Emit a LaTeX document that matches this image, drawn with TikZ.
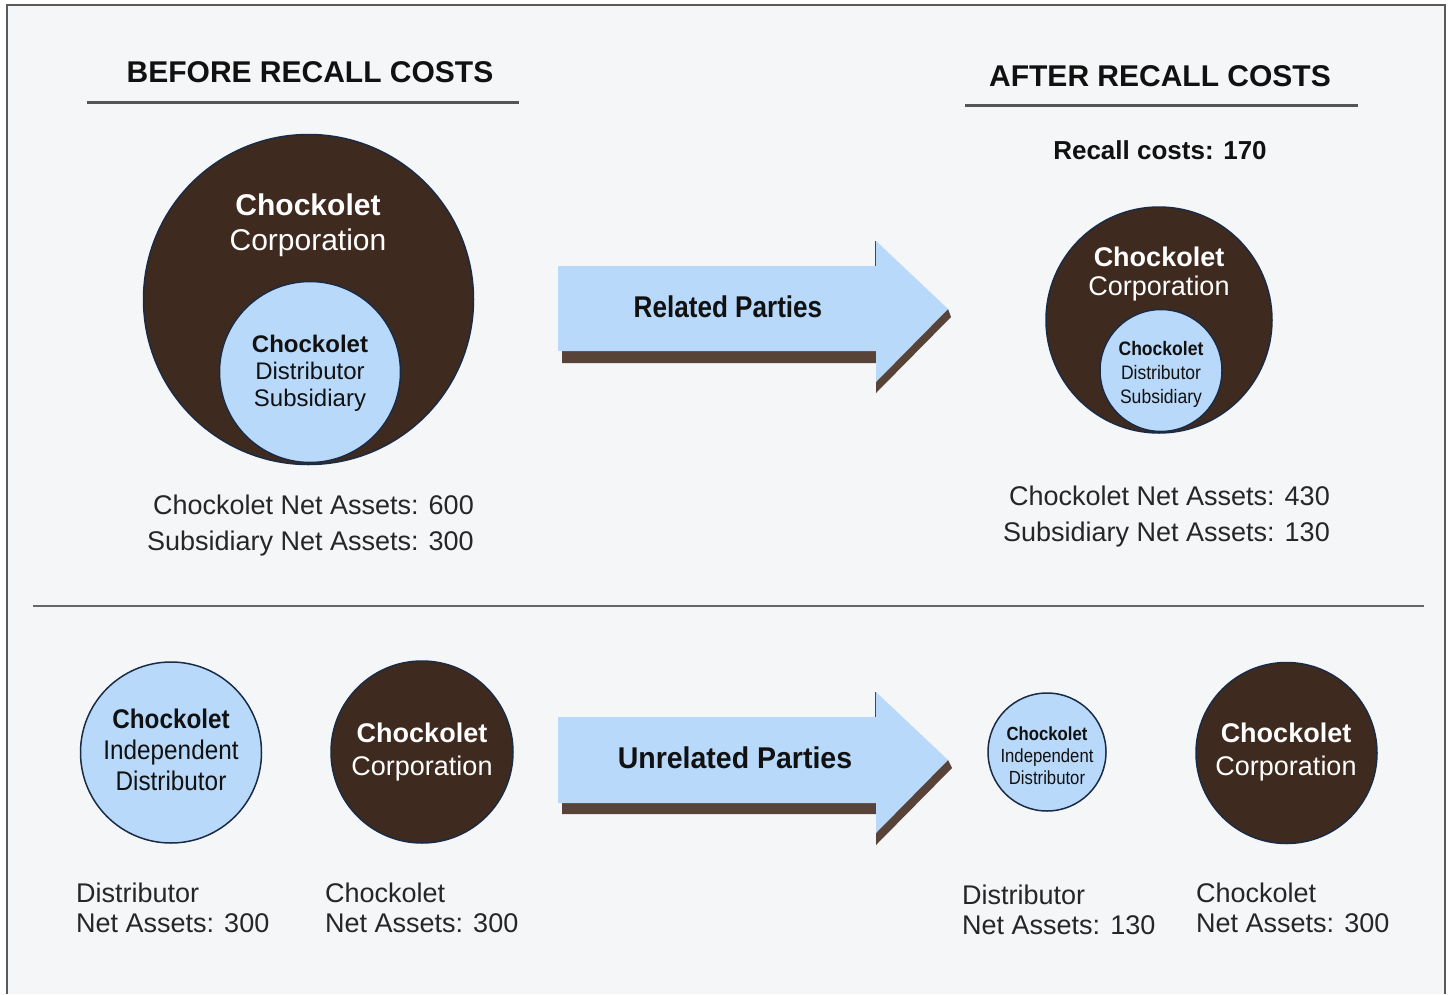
\documentclass[tikz,border=0pt]{standalone}
\usepackage{fontspec}
\setmainfont{Liberation Sans}
\usepackage{graphicx}
\definecolor{bgc}{HTML}{F5F6F8}
\definecolor{framec}{HTML}{5A5A5A}
\definecolor{brownc}{HTML}{3F2A1F}
\definecolor{bluec}{HTML}{B8D9FA}
\definecolor{shadowc}{HTML}{574337}
\definecolor{outc}{HTML}{1A2B45}
\definecolor{darkc}{HTML}{111111}
\definecolor{labc}{HTML}{262626}
\definecolor{rulec}{HTML}{555555}
\newcommand\fsz[1]{\fontsize{#1}{#1}\selectfont}
\newcommand\nrw[2]{\scalebox{#1}[1]{#2}}
\tikzset{
  corp/.style={circle, fill=brownc, draw=outc, line width=1.5pt, inner sep=0pt},
  subs/.style={circle, fill=bluec, draw=outc, line width=1.5pt, inner sep=0pt},
  txt/.style={anchor=base, inner sep=0pt},
  wtxt/.style={txt, text=white},
  btxt/.style={txt, text=darkc},
  title/.style={txt, text=darkc, font=\fsz{30}\bfseries},
  lbl/.style={inner sep=0pt, text=labc, font=\fsz{27}},
  rulel/.style={draw=rulec, line width=3pt},
  arrowbody/.style={fill=bluec},
  arrowshadow/.style={fill=shadowc}
}
\begin{document}
\begin{tikzpicture}[x=1pt,y=-1pt]
\useasboundingbox (0,0) rectangle (1452,994);
\fill[white] (0,0) rectangle (1452,994);
\fill[bgc] (7,5) rectangle (1445,994);
\draw[framec, line width=2pt] (7,994) -- (7,5) -- (1445,5) -- (1445,994);

% titles
\node[title] (tbefore) at (310,82) {BEFORE RECALL COSTS};
\node[title] (tafter) at (1160,86) {AFTER RECALL COSTS};
\draw[rulel] (87,102) -- (519,102);
\draw[rulel] (965,105) -- (1358,105);
\node[txt, text=darkc, font=\fsz{26}\bfseries] (recall) at (1160,159) {Recall costs: 170};

% before circles
\node[corp, minimum size=330pt] (corpA) at (308.5,299.5) {};
\node[subs, minimum size=181pt] (subA) at (310,372) {};
\node[wtxt, font=\fsz{30}\bfseries] (corpA1) at (308,215) {Chockolet};
\node[wtxt, font=\fsz{30}] (corpA2) at (308,250) {Corporation};
\node[btxt, font=\fsz{24}\bfseries] (subA1) at (310,352) {Chockolet};
\node[btxt, font=\fsz{24}] (subA2) at (310,379) {Distributor};
\node[btxt, font=\fsz{24}] (subA3) at (310,406) {Subsidiary};
\node[lbl, anchor=base east] (labA1) at (474,514) {Chockolet Net Assets: 600};
\node[lbl, anchor=base east] (labA2) at (474,550) {Subsidiary Net Assets: 300};

% after circles
\node[corp, minimum size=226pt] (corpB) at (1159,320) {};
\node[subs, minimum size=122pt] (subB) at (1161,370.5) {};
\node[wtxt, font=\fsz{27}\bfseries] (corpB1) at (1159,266) {Chockolet};
\node[wtxt, font=\fsz{27}] (corpB2) at (1159,295) {Corporation};
\node[btxt, font=\fsz{19.5}\bfseries] (subB1) at (1161,355) {\nrw{0.9}{Chockolet}};
\node[btxt, font=\fsz{19.5}] (subB2) at (1161,379) {\nrw{0.9}{Distributor}};
\node[btxt, font=\fsz{19.5}] (subB3) at (1161,403) {\nrw{0.9}{Subsidiary}};
\node[lbl, anchor=base east] (labB1) at (1330,505.5) {Chockolet Net Assets: 430};
\node[lbl, anchor=base east] (labB2) at (1330,541.5) {Subsidiary Net Assets: 130};

% arrow 1
\fill[arrowshadow] (562,300) -- (876,300) -- (948,309) -- (951,317) -- (876,393) -- (876,363) -- (562,363) -- cycle;
\draw[shadowc, line width=1.5pt] (875.5,241) -- (875.5,266);
\fill[arrowbody] (558,266) -- (876,266) -- (876,241) -- (948,309) -- (876,382) -- (876,351) -- (558,351) -- cycle;
\node[btxt, font=\fsz{30}\bfseries] (rel) at (728,317) {\nrw{0.87}{Related Parties}};

% divider
\draw[draw=rulec!90, line width=2.5pt] (33,606) -- (1424,606);

% bottom left circles
\node[subs, minimum size=181pt] (indA) at (171,752.5) {};
\node[btxt, font=\fsz{27}\bfseries] (indA1) at (171,728) {\nrw{0.9}{Chockolet}};
\node[btxt, font=\fsz{27}] (indA2) at (171,759) {\nrw{0.9}{Independent}};
\node[btxt, font=\fsz{27}] (indA3) at (171,790) {\nrw{0.9}{Distributor}};
\node[corp, minimum size=182pt] (corpC) at (422,752) {};
\node[wtxt, font=\fsz{27}\bfseries] (corpC1) at (422,742) {Chockolet};
\node[wtxt, font=\fsz{27}] (corpC2) at (422,775) {Corporation};
\node[lbl, anchor=base west] (labC1) at (76,902) {Distributor};
\node[lbl, anchor=base west] (labC2) at (76,932) {Net Assets: 300};
\node[lbl, anchor=base west] (labC3) at (325,902) {Chockolet};
\node[lbl, anchor=base west] (labC4) at (325,932) {Net Assets: 300};

% arrow 2
\fill[arrowshadow] (562,751) -- (876,751) -- (948,760) -- (952,768) -- (876,845) -- (876,814) -- (562,814) -- cycle;
\draw[shadowc, line width=1.5pt] (875.5,692) -- (875.5,717);
\fill[arrowbody] (558,717) -- (876,717) -- (876,692) -- (948,760) -- (876,833) -- (876,803) -- (558,803) -- cycle;
\node[btxt, font=\fsz{30}\bfseries] (unrel) at (735,768) {\nrw{0.95}{Unrelated Parties}};

% bottom right circles
\node[subs, minimum size=118pt] (indB) at (1047,752) {};
\node[btxt, font=\fsz{19}\bfseries] (indB1) at (1047,740) {\nrw{0.88}{Chockolet}};
\node[btxt, font=\fsz{19}] (indB2) at (1047,762) {\nrw{0.88}{Independent}};
\node[btxt, font=\fsz{19}] (indB3) at (1047,784) {\nrw{0.88}{Distributor}};
\node[corp, minimum size=181pt] (corpD) at (1286.5,753) {};
\node[wtxt, font=\fsz{27}\bfseries] (corpD1) at (1286,742) {Chockolet};
\node[wtxt, font=\fsz{27}] (corpD2) at (1286,775) {Corporation};
\node[lbl, anchor=base west] (labD1) at (962,904) {Distributor};
\node[lbl, anchor=base west] (labD2) at (962,934) {Net Assets: 130};
\node[lbl, anchor=base west] (labD3) at (1196,902) {Chockolet};
\node[lbl, anchor=base west] (labD4) at (1196,932) {Net Assets: 300};
\end{tikzpicture}
\end{document}
